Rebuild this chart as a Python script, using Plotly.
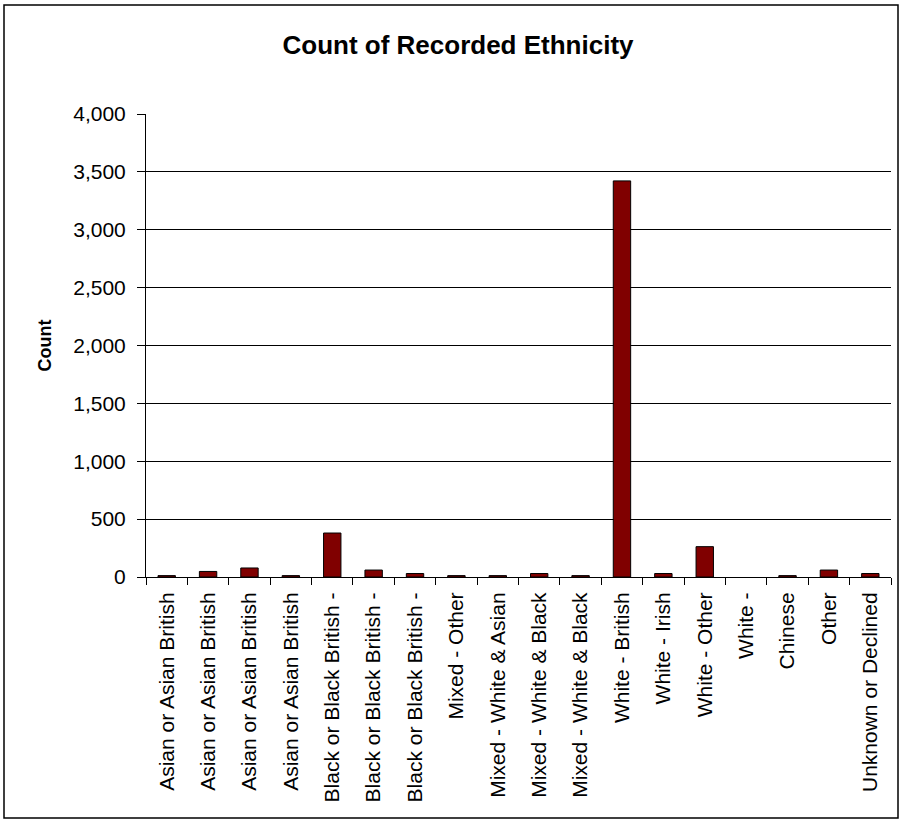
import plotly.graph_objects as go

categories = [
    "Asian or Asian British", "Asian or Asian British", "Asian or Asian British",
    "Asian or Asian British", "Black or Black British -", "Black or Black British -",
    "Black or Black British -", "Mixed - Other", "Mixed - White & Asian",
    "Mixed - White & Black", "Mixed - White & Black", "White - British",
    "White - Irish", "White - Other", "White -", "Chinese", "Other",
    "Unknown or Declined",
]
counts = [12, 48, 78, 12, 380, 60, 30, 12, 12, 30, 12, 3422, 30, 262, None, 12, 60, 30]
y_tickvals = [0, 500, 1000, 1500, 2000, 2500, 3000, 3500, 4000]
y_ticktext = ["0", "500", "1,000", "1,500", "2,000", "2,500", "3,000", "3,500", "4,000"]

# unique category keys (duplicate labels) made invisible with zero-width spaces
keys = [c + "\u200b" * i for i, c in enumerate(categories)]

W, H = 901, 820
ML, MR, MT, MB = 146, 10, 114, 243
PW, PH = W - ML - MR, H - MT - MB

fig = go.Figure()
fig.add_trace(go.Bar(
    x=keys, y=counts,
    marker=dict(color="#800000", line=dict(color="black", width=1)),
    width=0.42,
))

font = "Arial, Liberation Sans, sans-serif"
fig.update_layout(
    width=W, height=H,
    margin=dict(l=ML, r=MR, t=MT, b=MB, pad=0),
    paper_bgcolor="white", plot_bgcolor="white",
    showlegend=False,
    font=dict(family=font, color="black", size=20),
    title=dict(text="<b>Count of Recorded Ethnicity</b>", x=458 / W, xanchor="center",
               y=1 - 45 / H, yanchor="middle",
               font=dict(family=font, size=26, color="black")),
)
fig.update_xaxes(
    type="category", tickson="boundaries", ticks="outside", ticklen=7,
    tickcolor="black", tickwidth=1, tickangle=-90,
    showline=True, linecolor="black", linewidth=1,
    showgrid=False, tickfont=dict(size=21, family=font),
    ticklabelstandoff=6,
)
fig.update_yaxes(
    range=[0, 4000], tickvals=y_tickvals, ticktext=y_ticktext,
    ticks="outside", ticklen=8, tickcolor="black", tickwidth=1,
    showline=True, linecolor="black", linewidth=1,
    showgrid=True, gridcolor="black", gridwidth=1,
    zeroline=False, tickfont=dict(size=21, family=font),
    ticklabelstandoff=7,
    title=dict(text="<b>Count</b>", font=dict(size=18, family=font), standoff=16),
)
# outer frame around the whole chart
fig.add_shape(type="rect", xref="paper", yref="paper",
              x0=(4 - ML) / PW, x1=(898 - ML) / PW,
              y0=(H - MB - 818) / PH, y1=(H - MB - 5) / PH,
              line=dict(color="black", width=1.5), fillcolor="rgba(0,0,0,0)",
              layer="above")

fig.write_html("out.html")
